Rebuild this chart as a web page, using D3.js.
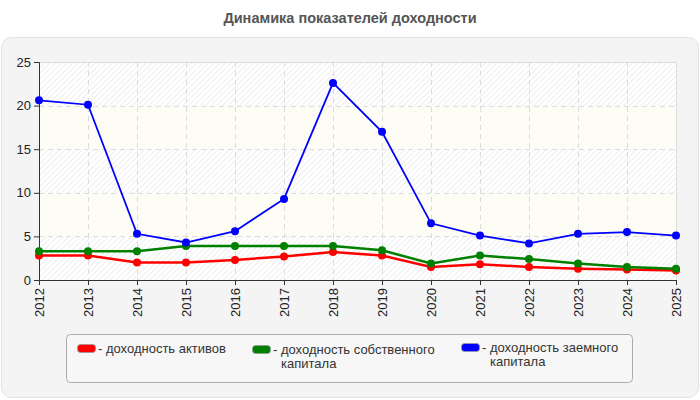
<!DOCTYPE html>
<html>
<head>
<meta charset="utf-8">
<script src="https://cdn.jsdelivr.net/npm/d3@7"></script>
<style>
    body { margin: 0; background: #fff; }
    svg { display: block; font-family: "Liberation Sans", Arial, sans-serif; }
</style>
</head>
<body>
<svg id="chart" width="700" height="400"></svg>
<script>
// Chart data
const years = ["2012", "2013", "2014", "2015", "2016", "2017", "2018", "2019", "2020", "2021", "2022", "2023", "2024", "2025"];
const assetsReturn = [2.8, 2.8, 2.0, 2.0, 2.3, 2.7, 3.2, 2.8, 1.5, 1.8, 1.5, 1.3, 1.2, 1.1];
const equityReturn = [3.3, 3.3, 3.3, 3.9, 3.9, 3.9, 3.9, 3.4, 1.9, 2.8, 2.4, 1.9, 1.5, 1.3];
const debtReturn = [20.6, 20.1, 5.3, 4.3, 5.6, 9.3, 22.6, 17.0, 6.5, 5.1, 4.2, 5.3, 5.5, 5.1];
const yTicks = [0, 5, 10, 15, 20, 25];
const seriesNames = ["- доходность активов", "- доходность собственного\nкапитала", "- доходность заемного\nкапитала"];
const seriesColors = ["#ff0000", "#008000", "#0000ff"];

const svg = d3.select("#chart");
const margin = {left: 39, right: 24, top: 62, bottom: 120};
const width = 700 - margin.left - margin.right;
const height = 400 - margin.top - margin.bottom;

// Title
svg.append("text")
    .attr("x", 350)
    .attr("y", 23)
    .attr("text-anchor", "middle")
    .attr("font-size", 14.5)
    .attr("font-weight", "bold")
    .attr("fill", "#555")
    .text("Динамика показателей доходности");

// Grey panel
svg.append("rect")
    .attr("x", 1.5).attr("y", 37.5)
    .attr("width", 697).attr("height", 360)
    .attr("rx", 10)
    .attr("fill", "#f4f4f4")
    .attr("stroke", "#e2e2e2");

// Hatch patterns
let defs = svg.append("defs");
let hatch = defs.append("pattern")
    .attr("id", "hatch")
    .attr("patternUnits", "userSpaceOnUse")
    .attr("width", 4).attr("height", 4)
    .attr("patternTransform", "rotate(45)");
hatch.append("rect").attr("width", 4).attr("height", 4).attr("fill", "#ffffff");
hatch.append("line").attr("x1", 0).attr("y1", 0).attr("x2", 0).attr("y2", 4)
    .attr("stroke", "#e6e6e6").attr("stroke-width", 1.3);

let hatch2 = defs.append("pattern")
    .attr("id", "hatch2")
    .attr("patternUnits", "userSpaceOnUse")
    .attr("width", 4).attr("height", 4)
    .attr("patternTransform", "rotate(45)");
hatch2.append("rect").attr("width", 4).attr("height", 4).attr("fill", "#fefef7");
hatch2.append("line").attr("x1", 0).attr("y1", 0).attr("x2", 0).attr("y2", 4)
    .attr("stroke", "#f7f7f0").attr("stroke-width", 1);

const g = svg.append("g").attr("transform", `translate(${margin.left},${margin.top})`);

const x = d3.scalePoint().domain(years).range([0, width]);
const y = d3.scaleLinear().domain([0, 25]).range([height, 0]);

// Alternating bands
g.selectAll("rect.band")
    .data(yTicks.slice(0, -1))
    .enter()
    .append("rect")
    .attr("class", "band")
    .attr("x", 0)
    .attr("y", d => y(d + 5))
    .attr("width", width)
    .attr("height", d => y(d) - y(d + 5))
    .attr("fill", (d, i) => i % 2 === 0 ? "url(#hatch)" : "url(#hatch2)");

// Plot frame
g.append("rect")
    .attr("x", 0.5).attr("y", 0.5)
    .attr("width", width).attr("height", height)
    .attr("fill", "none")
    .attr("stroke", "#dddddd");

// Grid lines
g.selectAll("line.hgrid")
    .data(yTicks.slice(1, -1))
    .enter()
    .append("line")
    .attr("x1", 0).attr("x2", width)
    .attr("y1", d => Math.round(y(d)) + 0.5)
    .attr("y2", d => Math.round(y(d)) + 0.5)
    .attr("stroke", "#dcdcdc")
    .attr("stroke-dasharray", "5,4");

g.selectAll("line.vgrid")
    .data(years.slice(1, -1))
    .enter()
    .append("line")
    .attr("x1", d => Math.round(x(d)) + 0.5)
    .attr("x2", d => Math.round(x(d)) + 0.5)
    .attr("y1", 0).attr("y2", height)
    .attr("stroke", "#dcdcdc")
    .attr("stroke-dasharray", "5,4");

// Axes
let yAxis = g.append("g")
    .call(d3.axisLeft(y).tickValues(yTicks).tickSize(5).tickPadding(3));
let xAxis = g.append("g")
    .attr("transform", `translate(0,${height})`)
    .call(d3.axisBottom(x).tickSize(5).tickPadding(3));

[xAxis, yAxis].forEach(ax => {
    ax.select(".domain").attr("stroke", "#333");
    ax.selectAll(".tick line").attr("stroke", "#333");
    ax.selectAll(".tick text")
        .attr("font-size", 13)
        .attr("fill", "#222")
        .attr("font-family", "Liberation Sans, Arial, sans-serif");
});

xAxis.selectAll(".tick text")
    .attr("transform", "rotate(-90)")
    .attr("text-anchor", "end")
    .attr("x", -8)
    .attr("y", 0)
    .attr("dy", "0.35em");

// Series
let allSeries = [assetsReturn, equityReturn, debtReturn];
let widths = [2.5, 2.5, 1.8];
let line = d3.line()
    .x((d, i) => x(years[i]))
    .y(d => y(d));

allSeries.forEach((values, s) => {
    g.append("path")
        .datum(values)
        .attr("d", line)
        .attr("fill", "none")
        .attr("stroke", seriesColors[s])
        .attr("stroke-width", widths[s]);

    g.selectAll("circle.s" + s)
        .data(values)
        .enter()
        .append("circle")
        .attr("class", "s" + s)
        .attr("cx", (d, i) => x(years[i]))
        .attr("cy", d => y(d))
        .attr("r", 4)
        .attr("fill", seriesColors[s]);
});

// Legend
svg.append("rect")
    .attr("x", 66.5).attr("y", 334.5)
    .attr("width", 566).attr("height", 48)
    .attr("rx", 4)
    .attr("fill", "#f7f7f7")
    .attr("stroke", "#aaa");

let legendPos = [[77, 344], [252, 345], [461, 343]];
seriesNames.forEach((name, i) => {
    let lg = svg.append("g").attr("transform", `translate(${legendPos[i][0]},${legendPos[i][1]})`);
    lg.append("rect")
        .attr("x", 0.5).attr("y", 0.5)
        .attr("width", 18).attr("height", 8)
        .attr("rx", 3)
        .attr("fill", seriesColors[i])
        .attr("stroke", "#999")
        .attr("stroke-width", 0.8);
    let lines = name.split("\n");
    lines.forEach((t, j) => {
        lg.append("text")
            .attr("x", j === 0 ? 21 : 29)
            .attr("y", 9 + j * 14)
            .attr("font-size", 13)
            .attr("fill", "#333")
            .text(t);
    });
});
</script>
</body>
</html>
